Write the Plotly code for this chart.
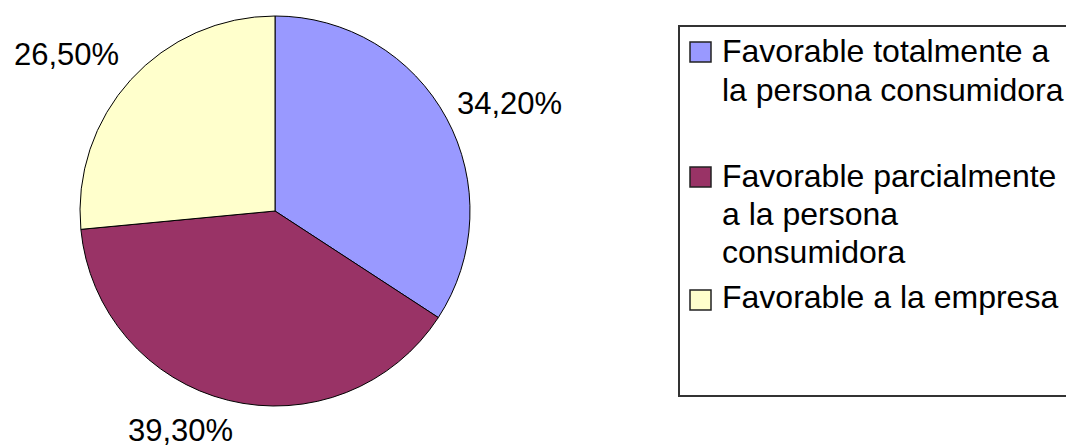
import plotly.graph_objects as go

# ---- data ----
categories = [
    "Favorable totalmente a la persona consumidora",
    "Favorable parcialmente a la persona consumidora",
    "Favorable a la empresa",
]
values = [34.2, 39.3, 26.5]
legend_lines = [
    ["Favorable totalmente a", "la persona consumidora"],
    ["Favorable parcialmente", "a la persona", "consumidora"],
    ["Favorable a la empresa"],
]
colors = ["#9999FF", "#993366", "#FFFFCC"]

# ---- layout helpers (pixels -> paper) ----
W, H = 1066, 448
def px(x):
    return x / W
def py(y):
    return 1 - y / H

FONT = "Arial, Liberation Sans, sans-serif"

fig = go.Figure()
fig.add_trace(go.Pie(
    labels=categories,
    values=values,
    sort=False,
    direction="clockwise",
    rotation=0,
    marker=dict(colors=colors, line=dict(color="#000000", width=1)),
    textinfo="none",
    showlegend=False,
    domain=dict(x=[px(80), px(470)], y=[py(406), py(16)]),
))

# percentage labels (positions of the data labels)
label_pos = [(509, 103), (181, 430), (66, 54)]
annotations = []
for v, (lx, ly) in zip(values, label_pos):
    annotations.append(dict(
        x=px(lx), y=py(ly), xref="paper", yref="paper",
        text=f"{v:.2f}%".replace(".", ","), showarrow=False,
        xanchor="center", yanchor="middle",
        font=dict(family=FONT, size=31, color="#000000"),
    ))

# legend (box, swatches, text)
shapes = [dict(type="rect", xref="paper", yref="paper",
               x0=px(679), x1=px(1075), y0=py(396), y1=py(26),
               line=dict(color="#333333", width=2), fillcolor="rgba(0,0,0,0)")]
swatch_top = [42, 167, 290]
first_baseline = [63, 187, 308]
line_step = 38
for col, st, fb, lines in zip(colors, swatch_top, first_baseline, legend_lines):
    shapes.append(dict(type="rect", xref="paper", yref="paper",
                       x0=px(690), x1=px(711), y0=py(st + 20), y1=py(st),
                       line=dict(color="#222222", width=1.5), fillcolor=col))
    for i, t in enumerate(lines):
        annotations.append(dict(
            x=px(720), y=py(fb + i * line_step - 11.5), xref="paper", yref="paper",
            text=t, showarrow=False, xanchor="left", yanchor="middle",
            font=dict(family=FONT, size=32, color="#000000"),
        ))

fig.update_layout(
    width=W, height=H,
    margin=dict(l=0, r=0, t=0, b=0),
    paper_bgcolor="white", plot_bgcolor="white",
    annotations=annotations, shapes=shapes,
    showlegend=False,
)
fig.write_html(
    "out.html",
    config={"displayModeBar": False},
    post_script="document.body.style.margin='0px';document.body.style.overflow='hidden';",
)
